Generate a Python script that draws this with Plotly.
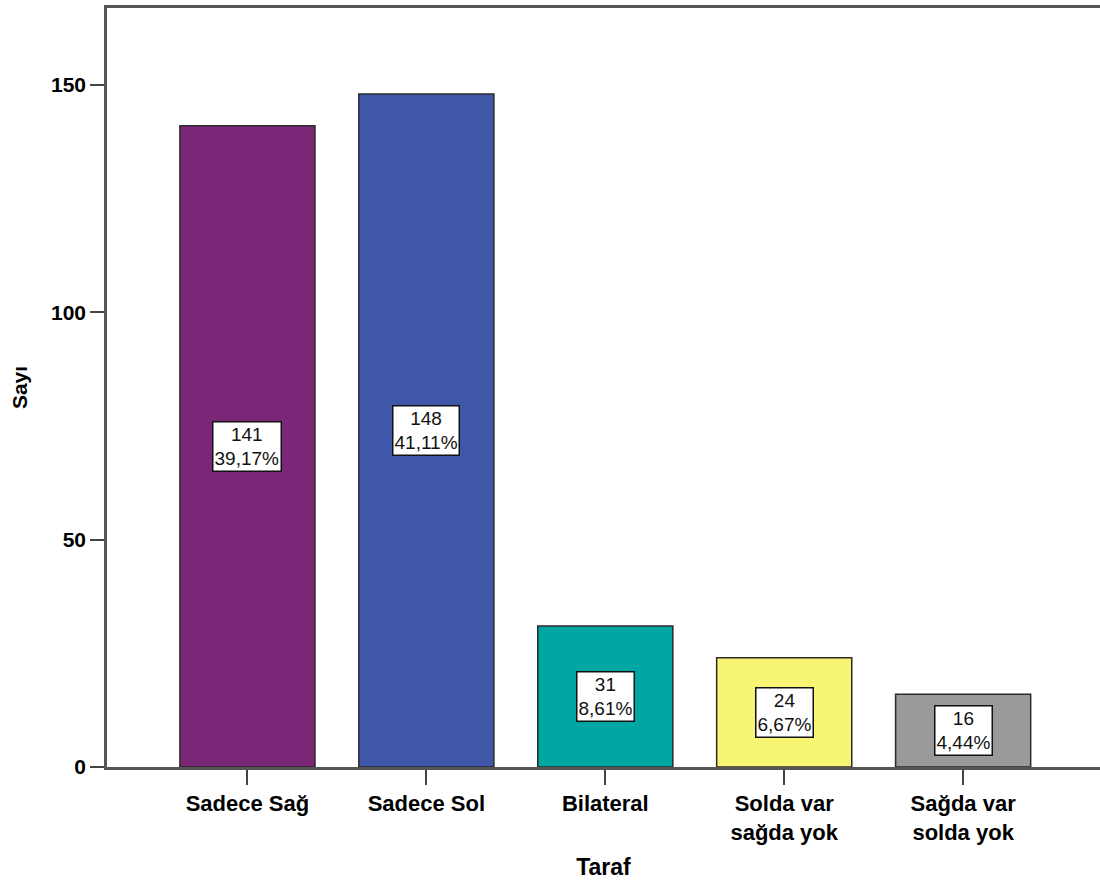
import plotly.graph_objects as go

categories = ["Sadece Sağ", "Sadece Sol", "Bilateral", "Solda var<br>sağda yok", "Sağda var<br>solda yok"]
counts = [141, 148, 31, 24, 16]
percents = ["39,17%", "41,11%", "8,61%", "6,67%", "4,44%"]
colors = ["#7B2777", "#3E57A9", "#00A6A1", "#F9F574", "#9A9A9A"]

FONT = "Liberation Sans, Arial, sans-serif"

fig = go.Figure()
fig.add_trace(go.Bar(
    x=list(range(len(categories))), y=counts,
    marker=dict(color=colors, line=dict(color="#2a2a2a", width=1.5)),
    width=0.755, showlegend=False, hoverinfo="skip",
))

for i, (c, p) in enumerate(zip(counts, percents)):
    fig.add_annotation(
        x=i, y=c / 2, text=f"{c}<br>{p}", showarrow=False,
        font=dict(family=FONT, size=19, color="#111"),
        bgcolor="white", bordercolor="#111", borderwidth=1.5, borderpad=1,
    )

fig.update_layout(
    width=1100, height=884,
    margin=dict(l=107, r=0, t=8, b=117),
    plot_bgcolor="white", paper_bgcolor="white",
    font=dict(family=FONT, color="#000"),
)
fig.update_xaxes(
    range=[-0.785, 4.765],
    tickmode="array", tickvals=list(range(len(categories))), ticktext=categories,
    tickfont=dict(family=FONT, size=22, color="#000", weight="bold"),
    ticks="outside", ticklen=15, tickwidth=2, tickcolor="#444",
    showline=True, linecolor="#555", linewidth=2.5, mirror=True,
    showgrid=False, zeroline=False,
    title=dict(text="<b>Taraf</b>", font=dict(family=FONT, size=23), standoff=16),
)
fig.update_yaxes(
    range=[0, 166.9],
    tickvals=[0, 50, 100, 150],
    tickfont=dict(family=FONT, size=21, color="#000", weight="bold"),
    ticks="outside", ticklen=14, tickwidth=2, tickcolor="#444",
    showline=True, linecolor="#555", linewidth=2.5,
    showgrid=False, zeroline=False,
    title=dict(text="<b>Sayı</b>", font=dict(family=FONT, size=21), standoff=18),
)

fig.write_html("out.html")
